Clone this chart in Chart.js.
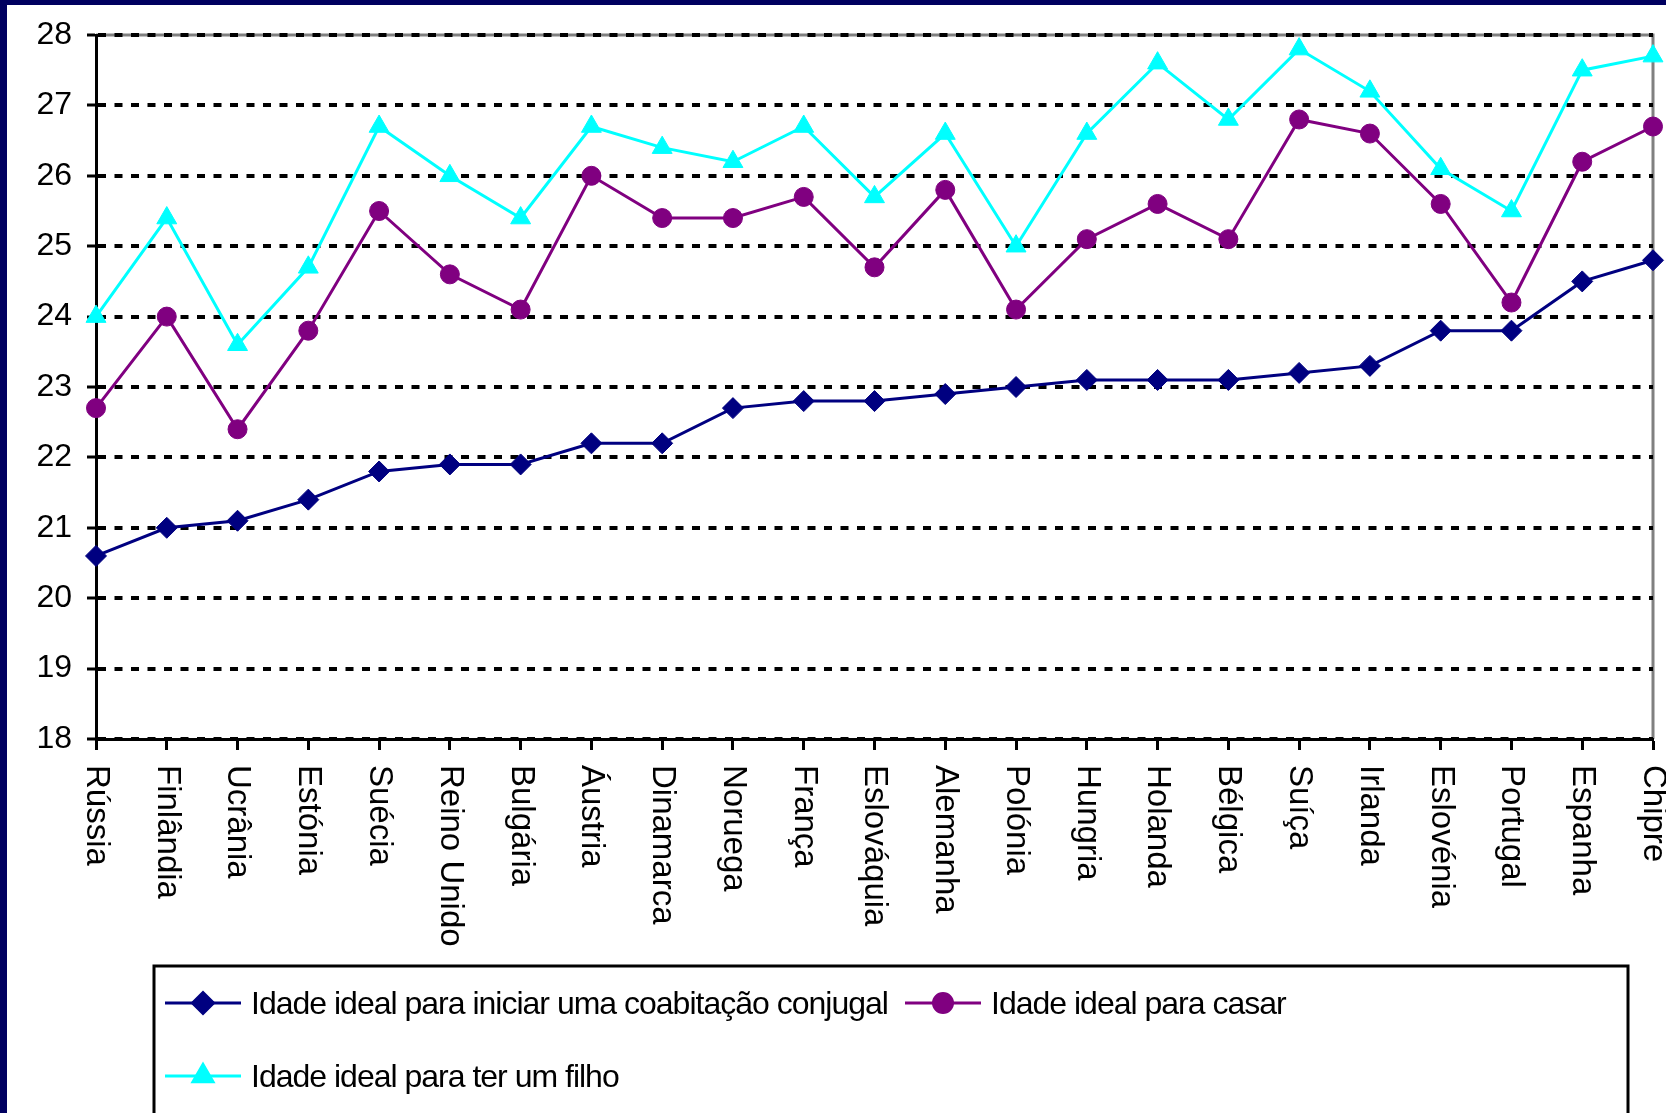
<!DOCTYPE html>
<html>
<head>
<meta charset="utf-8">
<script src="https://cdn.jsdelivr.net/npm/chart.js@4.4.1/dist/chart.umd.min.js"></script>
<style>
  html, body { margin: 0; padding: 0; background: #000060; width: 1666px; height: 1113px; overflow: hidden; }
  #frame { position: absolute; left: 7px; top: 5px; width: 1659px; height: 1108px; background: #fff; }
  canvas { display: block; }
</style>
</head>
<body>
<div id="frame"><canvas id="grafico"></canvas></div>
<script>
// Dados
const paises = ['Rússia', 'Finlândia', 'Ucrânia', 'Estónia', 'Suécia', 'Reino Unido', 'Bulgária',
  'Áustria', 'Dinamarca', 'Noruega', 'França', 'Eslováquia', 'Alemanha', 'Polónia', 'Hungria',
  'Holanda', 'Bélgica', 'Suíça', 'Irlanda', 'Eslovénia', 'Portugal', 'Espanha', 'Chipre'];

const coabitacao = [20.6, 21.0, 21.1, 21.4, 21.8, 21.9, 21.9, 22.2, 22.2, 22.7, 22.8, 22.8,
  22.9, 23.0, 23.1, 23.1, 23.1, 23.2, 23.3, 23.8, 23.8, 24.5, 24.8];

const casar = [22.7, 24.0, 22.4, 23.8, 25.5, 24.6, 24.1, 26.0, 25.4, 25.4, 25.7, 24.7,
  25.8, 24.1, 25.1, 25.6, 25.1, 26.8, 26.6, 25.6, 24.2, 26.2, 26.7];

const filho = [24.0, 25.4, 23.6, 24.7, 26.7, 26.0, 25.4, 26.7, 26.4, 26.2, 26.7, 25.7,
  26.6, 25.0, 26.6, 27.6, 26.8, 27.8, 27.2, 26.1, 25.5, 27.5, 27.7];

const yMin = 18;
const yMax = 28;
const yPasso = 1;

const FONTE = '"Liberation Sans", Arial, sans-serif';

// moldura cinzenta (topo e direita da área do gráfico)
const moldura = {
  id: 'moldura',
  beforeDraw(chart) {
    const { ctx, chartArea: a } = chart;
    ctx.save();
    ctx.strokeStyle = '#808080';
    ctx.lineWidth = 3;
    ctx.beginPath();
    ctx.moveTo(a.left, a.top);
    ctx.lineTo(a.right, a.top);
    ctx.lineTo(a.right, a.bottom);
    ctx.stroke();
    ctx.restore();
  }
};

// rótulos do eixo x, rodados 90° no sentido dos ponteiros
const rotulosX = {
  id: 'rotulosX',
  afterDraw(chart) {
    const { ctx, scales: { x } } = chart;
    ctx.save();
    ctx.fillStyle = '#000';
    ctx.font = '33px ' + FONTE;
    ctx.textAlign = 'left';
    ctx.textBaseline = 'middle';
    paises.forEach((p, i) => {
      ctx.save();
      ctx.translate(x.getPixelForTick(i), x.top + 26);
      ctx.rotate(Math.PI / 2);
      ctx.fillText(p, 0, 0);
      ctx.restore();
    });
    ctx.restore();
  }
};

// legenda em caixa, como no original
const legenda = {
  id: 'legendaCaixa',
  afterDraw(chart) {
    const { ctx } = chart;
    ctx.save();
    ctx.strokeStyle = '#000';
    ctx.lineWidth = 3;
    ctx.strokeRect(147, 961, 1474, 200);

    const itens = [
      { ds: 0, x: 158, y: 998 },
      { ds: 1, x: 898, y: 998 },
      { ds: 2, x: 158, y: 1071 }
    ];
    itens.forEach(it => {
      const ds = chart.data.datasets[it.ds];
      ctx.strokeStyle = ds.borderColor;
      ctx.lineWidth = 3;
      ctx.beginPath();
      ctx.moveTo(it.x, it.y);
      ctx.lineTo(it.x + 76, it.y);
      ctx.stroke();
      ctx.fillStyle = ds.pointBackgroundColor;
      ctx.strokeStyle = ds.pointBorderColor;
      Chart.helpers.drawPoint(ctx, {
        pointStyle: ds.pointStyle, radius: ds.pointRadius, rotation: 0, borderWidth: 1
      }, it.x + 38, it.y);
      ctx.fillStyle = '#000';
      ctx.font = '32px ' + FONTE;
      ctx.letterSpacing = '-1px';
      ctx.textAlign = 'left';
      ctx.textBaseline = 'middle';
      ctx.fillText(ds.label, it.x + 86, it.y + 2);
      ctx.letterSpacing = '0px';
    });
    ctx.restore();
  }
};

function serie(label, data, cor, estilo, raio) {
  return {
    label, data,
    borderColor: cor,
    backgroundColor: cor,
    pointBackgroundColor: cor,
    pointBorderColor: cor,
    pointStyle: estilo,
    pointRadius: raio,
    pointBorderWidth: 1,
    borderWidth: 3,
    tension: 0,
    clip: false
  };
}

new Chart(document.getElementById('grafico'), {
  type: 'line',
  data: {
    labels: paises,
    datasets: [
      serie('Idade ideal para iniciar uma coabitação conjugal', coabitacao, '#000080', 'rectRot', 10.5),
      serie('Idade ideal para casar', casar, '#800080', 'circle', 9.5),
      serie('Idade ideal para ter um filho', filho, '#00FFFF', 'triangle', 11.5)
    ]
  },
  options: {
    responsive: true,
    maintainAspectRatio: false,
    animation: false,
    layout: { padding: { top: 30, right: 13, left: 0, bottom: 0 } },
    plugins: {
      legend: { display: false },
      tooltip: { enabled: false }
    },
    scales: {
      x: {
        offset: false,
        afterFit: s => { s.height = 374; s.paddingLeft = 0; s.paddingRight = 0; },
        border: { display: true, color: '#000', width: 3 },
        grid: {
          drawOnChartArea: false,
          drawTicks: true,
          tickLength: 11,
          tickColor: '#000',
          tickWidth: 3
        },
        ticks: { display: false, autoSkip: false }
      },
      y: {
        min: yMin,
        max: yMax,
        afterFit: s => { s.width = 89; s.paddingTop = 0; s.paddingBottom = 0; },
        border: { display: true, color: '#000', width: 3, dash: [8, 8.5] },
        grid: {
          color: '#000',
          lineWidth: 4,
          tickLength: 9,
          tickColor: '#000',
          tickWidth: 3,
          tickBorderDash: [1, 0]
        },
        ticks: {
          stepSize: yPasso,
          padding: 15,
          color: '#000',
          font: { family: FONTE, size: 32 }
        }
      }
    }
  },
  plugins: [moldura, rotulosX, legenda]
});
</script>
</body>
</html>
